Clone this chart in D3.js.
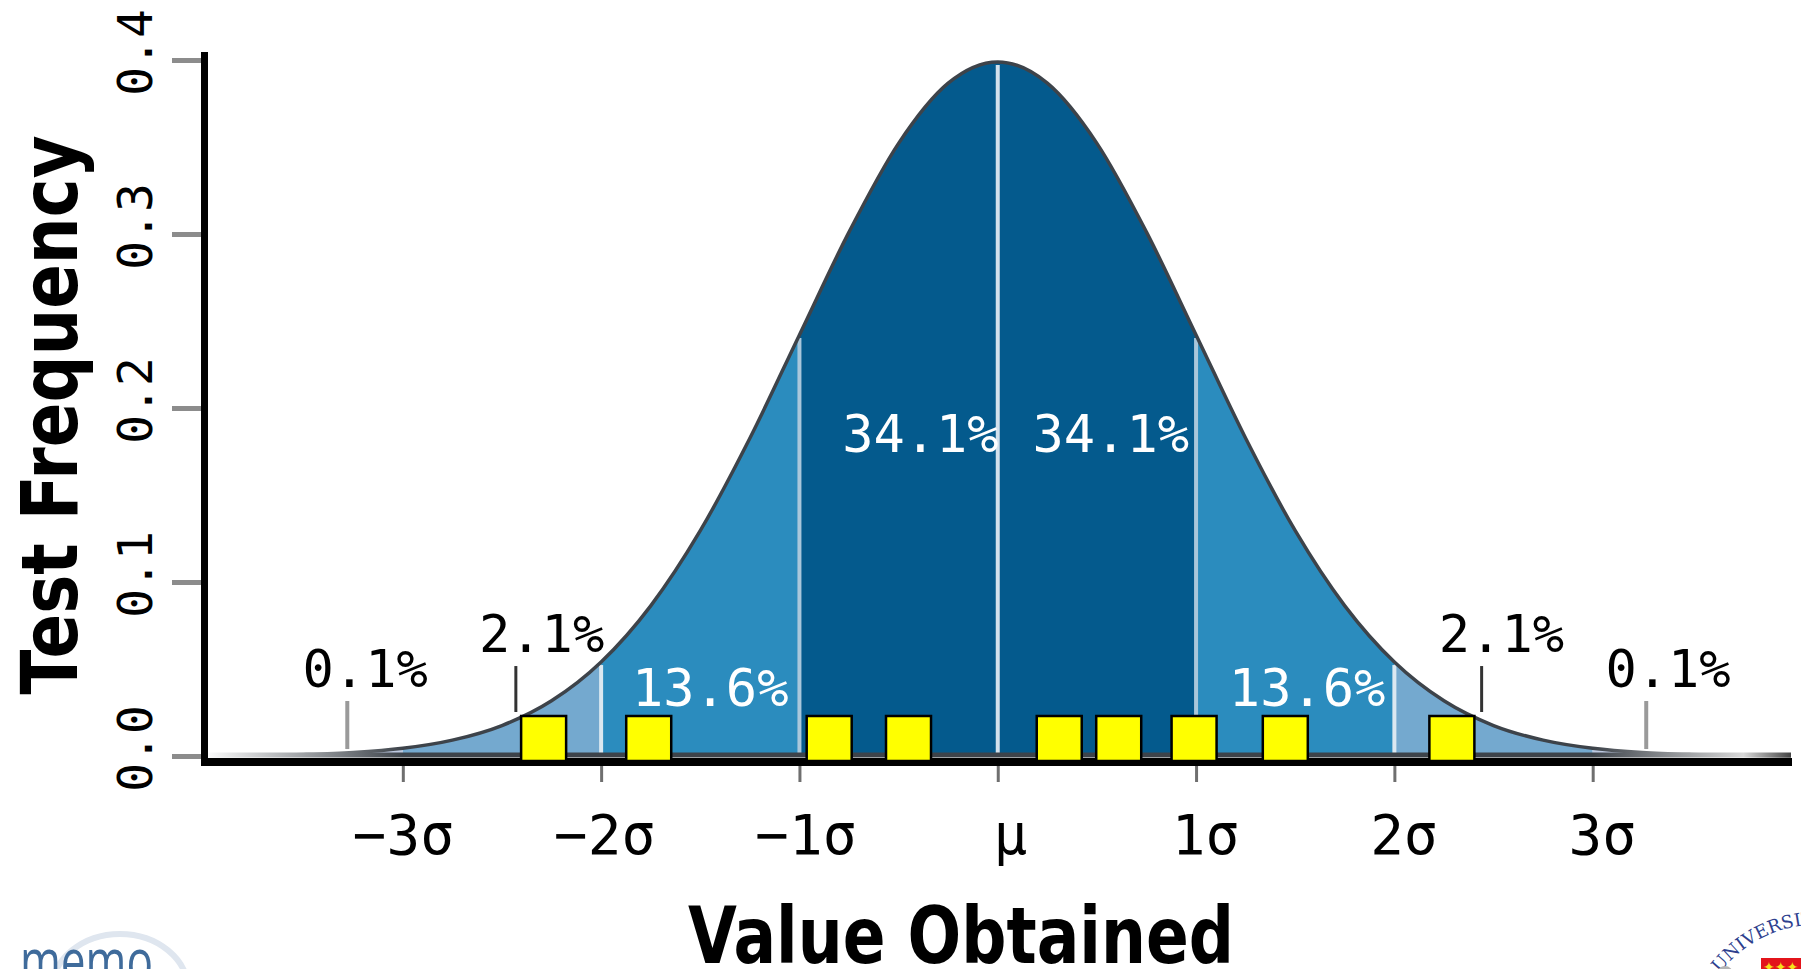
<!DOCTYPE html>
<html>
<head>
<meta charset="utf-8">
<title>Test Frequency vs Value Obtained</title>
<script src="https://d3js.org/d3.v7.min.js"></script>
<style>
  body { margin: 0; background: #fff; }
  svg { display: block; }
</style>
</head>
<body>
<script>
// curve heights, x in sigma units
const sigmaSteps = [-4, -3.75, -3.5, -3.25, -3, -2.75, -2.5, -2.25, -2, -1.75, -1.5, -1.25, -1, -0.75, -0.5, -0.25,
  0, 0.25, 0.5, 0.75, 1, 1.25, 1.5, 1.75, 2, 2.25, 2.5, 2.75, 3, 3.25, 3.5, 3.75, 4];
const frequency = [0.0001, 0.0004, 0.0009, 0.002, 0.0044, 0.0091, 0.0175, 0.0317, 0.054, 0.0863, 0.1295, 0.1826, 0.242, 0.3011, 0.3521, 0.3867,
  0.3989, 0.3867, 0.3521, 0.3011, 0.242, 0.1826, 0.1295, 0.0863, 0.054, 0.0317, 0.0175, 0.0091, 0.0044, 0.002, 0.0009, 0.0004, 0.0001];

// shaded bands
const bandFrom = [-4, -3, -2, -1, 1, 2, 3];
const bandTo = [-3, -2, -1, 1, 2, 3, 4];
const bandShade = ['tail', 'light', 'mid', 'dark', 'mid', 'light', 'tail'];

// dividers inside the curve
const dividerSigma = [-2, -1, 0, 1, 2];

// percentage labels
const pctText = ['0.1%', '2.1%', '13.6%', '34.1%', '34.1%', '13.6%', '2.1%', '0.1%'];
const pctSigma = [-3.19, -2.30, -1.45, -0.39, 0.57, 1.56, 2.54, 3.38];
const pctHeight = [0.0397, 0.0598, 0.0287, 0.1747, 0.1747, 0.0287, 0.0598, 0.0397];
const pctInside = [false, false, true, true, true, true, false, false];

// little pointer lines under the outer labels
const leaderSigma = [-3.28, -2.43, 2.44, 3.27];
const leaderTop = [0.0316, 0.0517, 0.0517, 0.0316];
const leaderBottom = [0.004, 0.0253, 0.0253, 0.004];

// yellow test scores
const scoreSigma = [-2.29, -1.76, -0.85, -0.45, 0.31, 0.61, 0.99, 1.45, 2.29];

// axes
const xTicks = [-3, -2, -1, 0, 1, 2, 3];
const xTickLabels = ['\u22123\u03c3', '\u22122\u03c3', '\u22121\u03c3', '\u03bc', '1\u03c3', '2\u03c3', '3\u03c3'];
const yTicks = [0, 0.1, 0.2, 0.3, 0.4];
const yTickLabels = ['0.0', '0.1', '0.2', '0.3', '0.4'];

const width = 1801;
const height = 969;

const shadeColor = { tail: '#bdc9e1', light: '#74a9cf', mid: '#2b8cbe', dark: '#045a8d' };
const dividerColor = { '-2': '#dbe8f1', '-1': '#a9c7db', '0': '#d3e1ec', '1': '#a9c7db', '2': '#dbe8f1' };

const svg = d3.select('body')
  .append('svg')
  .attr('width', width)
  .attr('height', height);

svg.append('rect').attr('width', width).attr('height', height).attr('fill', '#fff');

const x = d3.scaleLinear().domain([-4, 4]).range([204.5, 1791]);
const y = d3.scaleLinear().domain([0, 0.4]).range([756, 60]);

const pts = sigmaSteps.map((s, i) => [s, frequency[i]]);

const area = d3.area()
  .x(d => x(d[0]))
  .y0(y(0))
  .y1(d => y(d[1]))
  .curve(d3.curveMonotoneX);

const line = d3.line()
  .x(d => x(d[0]))
  .y(d => y(d[1]))
  .curve(d3.curveMonotoneX);

const defs = svg.append('defs');

// fade the outline out towards the far tails
const grad = defs.append('linearGradient')
  .attr('id', 'edge')
  .attr('gradientUnits', 'userSpaceOnUse')
  .attr('x1', x(-4)).attr('x2', x(4))
  .attr('y1', 0).attr('y2', 0);
grad.append('stop').attr('offset', 0).attr('stop-color', '#ffffff');
grad.append('stop').attr('offset', 0.125).attr('stop-color', '#3d434a');
grad.append('stop').attr('offset', 0.875).attr('stop-color', '#3d434a');
grad.append('stop').attr('offset', 0.97).attr('stop-color', '#d8d8d8');
grad.append('stop').attr('offset', 1).attr('stop-color', '#444');

bandFrom.forEach((b, i) => {
  defs.append('clipPath').attr('id', 'band' + i)
    .append('rect')
    .attr('x', x(b))
    .attr('width', x(bandTo[i]) - x(b))
    .attr('y', 0)
    .attr('height', height);
});

const g = svg.append('g');

g.selectAll('.band')
  .data(bandFrom)
  .enter().append('path')
    .attr('class', 'band')
    .attr('clip-path', (d, i) => `url(#band${i})`)
    .attr('d', area(pts))
    .attr('fill', (d, i) => shadeColor[bandShade[i]]);

g.selectAll('.divider')
  .data(dividerSigma)
  .enter().append('line')
    .attr('class', 'divider')
    .attr('x1', d => x(d)).attr('x2', d => x(d))
    .attr('y1', y(0))
    .attr('y2', d => y(frequency[sigmaSteps.indexOf(d)]) + 3)
    .attr('stroke', d => dividerColor[d])
    .attr('stroke-width', 4);

// outline of the curve and its base
g.append('path')
  .attr('d', line(pts))
  .attr('fill', 'none')
  .attr('stroke', 'url(#edge)')
  .attr('stroke-width', 3.5);

g.append('line')
  .attr('x1', x(-4)).attr('x2', x(4))
  .attr('y1', y(0) - 1).attr('y2', y(0) - 1)
  .attr('stroke', 'url(#edge)')
  .attr('stroke-width', 5);

g.selectAll('.leader')
  .data(leaderSigma)
  .enter().append('line')
    .attr('class', 'leader')
    .attr('x1', d => x(d)).attr('x2', d => x(d))
    .attr('y1', (d, i) => y(leaderTop[i]))
    .attr('y2', (d, i) => y(leaderBottom[i]))
    .attr('stroke', (d, i) => (i === 0 || i === 3) ? '#9a9a9a' : '#333')
    .attr('stroke-width', (d, i) => (i === 0 || i === 3) ? 4 : 3);

g.selectAll('.pct')
  .data(pctText)
  .enter().append('text')
    .attr('class', 'pct')
    .attr('x', (d, i) => x(pctSigma[i]))
    .attr('y', (d, i) => y(pctHeight[i]))
    .attr('text-anchor', 'middle')
    .attr('font-family', '"DejaVu Sans Mono", monospace')
    .attr('font-size', 52)
    .attr('fill', (d, i) => pctInside[i] ? '#fff' : '#000')
    .text(d => d);

// axes
const xAxis = d3.axisBottom(x)
  .tickValues(xTicks)
  .tickFormat((d, i) => xTickLabels[i])
  .tickSizeInner(16)
  .tickSizeOuter(0);

const xg = svg.append('g')
  .attr('transform', 'translate(0,766)')
  .call(xAxis);
xg.select('.domain').remove();
xg.selectAll('.tick line').attr('stroke', '#6f6f6f').attr('stroke-width', 3);
xg.selectAll('.tick text')
  .attr('y', 88)
  .attr('dy', 0)
  .attr('dx', (d, i) => i === 3 ? 12 : (i < 3 ? 3 * i : 9))
  .attr('fill', '#000')
  .attr('font-family', '"DejaVu Sans Mono", monospace')
  .attr('font-size', 56);

const yAxis = d3.axisLeft(y)
  .tickValues(yTicks)
  .tickFormat((d, i) => yTickLabels[i])
  .tickSizeInner(29)
  .tickSizeOuter(0);

const yg = svg.append('g')
  .attr('transform', 'translate(201,0)')
  .call(yAxis);
yg.select('.domain').remove();
yg.selectAll('.tick line').attr('stroke', '#8c8c8c').attr('stroke-width', 5);
yg.selectAll('.tick text')
  .attr('x', null)
  .attr('dy', 0)
  .attr('transform', 'translate(-49,0) rotate(-90)')
  .attr('dx', 8)
  .attr('text-anchor', 'middle')
  .attr('fill', '#000')
  .attr('font-family', '"DejaVu Sans Mono", monospace')
  .attr('font-size', 48);

// thick black frame lines
svg.append('line')
  .attr('x1', 204.5).attr('x2', 204.5)
  .attr('y1', 52).attr('y2', 766)
  .attr('stroke', '#000').attr('stroke-width', 7);

svg.append('line')
  .attr('x1', 201).attr('x2', 1792)
  .attr('y1', 762).attr('y2', 762)
  .attr('stroke', '#000').attr('stroke-width', 8);

// test scores
const box = 45;
svg.selectAll('.score')
  .data(scoreSigma)
  .enter().append('rect')
    .attr('class', 'score')
    .attr('x', d => x(d) - box / 2)
    .attr('y', y(0) + 5 - box)
    .attr('width', box)
    .attr('height', box)
    .attr('fill', '#ffff00')
    .attr('stroke', '#000')
    .attr('stroke-width', 2.5);

// axis titles
svg.append('text')
  .attr('x', 961)
  .attr('y', 963)
  .attr('text-anchor', 'middle')
  .attr('font-family', '"DejaVu Sans", sans-serif')
  .attr('font-weight', 'bold')
  .attr('font-size', 78)
  .attr('textLength', 546)
  .attr('lengthAdjust', 'spacingAndGlyphs')
  .text('Value Obtained');

svg.append('text')
  .attr('transform', 'translate(77,415) rotate(-90)')
  .attr('text-anchor', 'middle')
  .attr('font-family', '"DejaVu Sans", sans-serif')
  .attr('font-weight', 'bold')
  .attr('font-size', 78)
  .attr('textLength', 559)
  .attr('lengthAdjust', 'spacingAndGlyphs')
  .text('Test Frequency');

// logos peeking in at the bottom corners
svg.append('ellipse')
  .attr('cx', 120).attr('cy', 990)
  .attr('rx', 68).attr('ry', 56)
  .attr('fill', 'none')
  .attr('stroke', '#dfe6ef')
  .attr('stroke-width', 6);

svg.append('text')
  .attr('x', 20).attr('y', 982)
  .attr('font-family', '"Open Sans", sans-serif')
  .attr('font-size', 60)
  .attr('fill', '#3f6b9b')
  .attr('textLength', 133)
  .attr('lengthAdjust', 'spacingAndGlyphs')
  .text('memo');

defs.append('path')
  .attr('id', 'sealArc')
  .attr('d', 'M 1700 1010 A 125 125 0 0 1 1830 925');

svg.append('text')
  .attr('font-family', '"DejaVu Serif", serif')
  .attr('font-size', 18)
  .attr('fill', '#2e3f8e')
  .append('textPath')
    .attr('href', '#sealArc')
    .attr('startOffset', 42)
    .text('UNIVERSITAS');

svg.append('rect')
  .attr('x', 1761).attr('y', 958)
  .attr('width', 40).attr('height', 11)
  .attr('fill', '#e3141b');

svg.append('text')
  .attr('x', 1763).attr('y', 972)
  .attr('font-family', '"DejaVu Sans", sans-serif')
  .attr('font-size', 14)
  .attr('fill', '#f5e11a')
  .text('\u2726\u2726\u2726');

svg.append('circle')
  .attr('cx', 1725).attr('cy', 974)
  .attr('r', 8)
  .attr('fill', '#b4b4b4');
</script>
</body>
</html>
